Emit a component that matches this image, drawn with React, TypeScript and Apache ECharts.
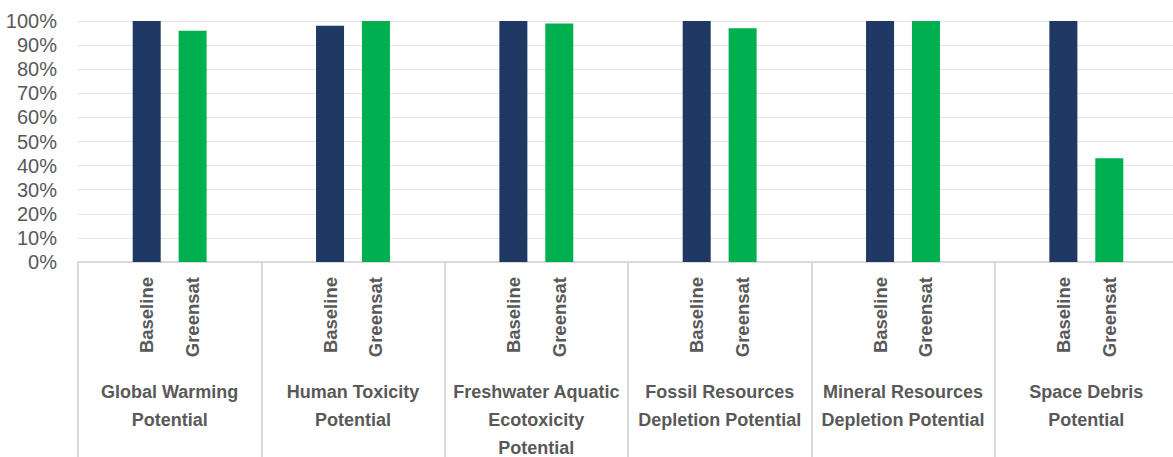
import React, { useEffect, useRef } from "react";
import * as echarts from "echarts";

const categories = [
  "Global Warming\nPotential",
  "Human Toxicity\nPotential",
  "Freshwater Aquatic\nEcotoxicity\nPotential",
  "Fossil Resources\nDepletion Potential",
  "Mineral Resources\nDepletion Potential",
  "Space Debris\nPotential",
];
const seriesNames = ["Baseline", "Greensat"];
const baselineValues = [100, 98, 100, 100, 100, 100];
const greensatValues = [96, 100, 99, 97, 100, 43];
const yTicks = { min: 0, max: 100, interval: 10 };

const FONT = "'Liberation Sans', Arial, sans-serif";
const TEXT = "#595959";

export default function App() {
  const ref = useRef<HTMLDivElement>(null);
  useEffect(() => {
    if (!ref.current) return;
    const chart = echarts.init(ref.current, undefined, { renderer: "svg" });
    const barLabel = (name: string) => ({
      show: true,
      position: "bottom",
      distance: 15,
      rotate: 90,
      align: "right",
      verticalAlign: "middle",
      formatter: name,
      fontFamily: FONT,
      fontWeight: "bold",
      fontSize: 18.5,
      color: TEXT,
    });
    chart.setOption({
      animation: false,
      grid: {
        left: 78,
        top: 21,
        width: 1100,
        bottom: 195,
        containLabel: false,
        outerBoundsMode: "none",
      },
      xAxis: {
        type: "category",
        data: categories,
        axisLine: { show: true, lineStyle: { color: "#D9D9D9", width: 2 } },
        axisTick: {
          show: true,
          interval: 0,
          length: 200,
          lineStyle: { color: "#D9D9D9", width: 2 },
        },
        axisLabel: {
          interval: 0,
          margin: 116,
          fontFamily: FONT,
          fontWeight: "bold",
          fontSize: 18,
          lineHeight: 28,
          color: TEXT,
          verticalAlign: "top",
        },
        splitLine: { show: false },
      },
      yAxis: {
        type: "value",
        min: yTicks.min,
        max: yTicks.max,
        interval: yTicks.interval,
        axisLine: { show: false },
        axisTick: { show: false },
        splitLine: { show: true, lineStyle: { color: "#E6E6E6", width: 1 } },
        axisLabel: {
          formatter: "{value}%",
          margin: 21,
          fontFamily: FONT,
          fontSize: 20,
          color: TEXT,
        },
      },
      series: [
        {
          name: seriesNames[0],
          type: "bar",
          data: baselineValues,
          barWidth: 28,
          barGap: "64%",
          itemStyle: { color: "#1F3864" },
          label: barLabel(seriesNames[0]),
        },
        {
          name: seriesNames[1],
          type: "bar",
          data: greensatValues,
          barWidth: 28,
          barGap: "64%",
          itemStyle: { color: "#00B050" },
          label: barLabel(seriesNames[1]),
        },
      ],
    });
    return () => chart.dispose();
  }, []);
  return (
    <div
      ref={ref}
      style={{ position: "absolute", left: 0, top: 0, width: 1173, height: 457, background: "#fff" }}
    />
  );
}
